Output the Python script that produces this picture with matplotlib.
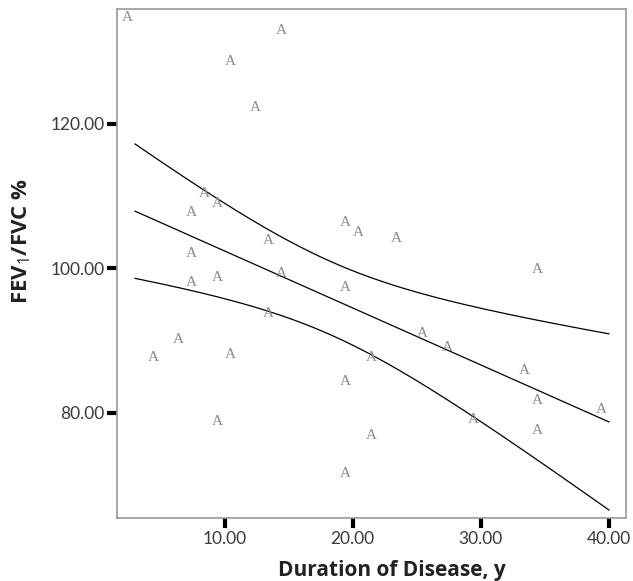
import matplotlib

matplotlib.use("Agg")

import matplotlib.pyplot as plt
import numpy as np

# Duration of disease (years) and FEV1/FVC % for each patient
duration = [3, 15, 11, 13, 9, 10, 8, 20, 21, 24, 14, 8, 35, 15, 10, 8, 20,
            14, 26, 28, 7, 22, 5, 11, 34, 20, 35, 40, 10, 30, 22, 35, 20]
fev_ratio = [133.5, 131.7, 127.5, 121.1, 109.2, 107.8, 106.5, 105.1, 103.7,
             102.9, 102.6, 100.8, 98.6, 98.1, 97.5, 96.8, 96.1, 92.6, 89.8,
             87.8, 89.0, 86.5, 86.4, 86.9, 84.6, 83.1, 80.5, 79.2, 77.6,
             77.8, 75.6, 76.3, 70.4]

x_ticks = [10, 20, 30, 40]
y_ticks = [80, 100, 120]

_TEXT = "#3a3a3a"
_SPINE = "#9a9a9a"
_MARK = "#8c8c8c"
_T95 = 2.0395  # t(0.975, df=31)

plt.rcParams["font.family"] = ["Lato", "DejaVu Sans"]
plt.rcParams["mathtext.fontset"] = "custom"
plt.rcParams["mathtext.rm"] = "Open Sans"
plt.rcParams["mathtext.it"] = "Open Sans"
plt.rcParams["mathtext.bf"] = "Open Sans:bold"

fig = plt.figure(figsize=(6.33, 5.81), dpi=100)
ax = fig.add_axes([0.1848, 0.1084, 0.8049, 0.8756])

x = np.array(duration, dtype=float)
y = np.array(fev_ratio, dtype=float)

# least squares fit with 95% confidence band for the mean
slope, intercept = np.polyfit(x, y, 1)
n = len(x)
resid = y - (slope * x + intercept)
s = np.sqrt(np.sum(resid ** 2) / (n - 2))
sxx = np.sum((x - x.mean()) ** 2)
xs = np.linspace(x.min(), x.max(), 200)
fit = slope * xs + intercept
half = _T95 * s * np.sqrt(1.0 / n + (xs - x.mean()) ** 2 / sxx)

for curve in (fit, fit + half, fit - half):
    ax.plot(xs, curve, color="black", linewidth=0.9)

# SPSS-style "A" markers, drawn up and left of the actual point
for xi, yi in zip(x, y):
    ax.annotate("A", (xi, yi), xytext=(-7.5, 8.7), textcoords="offset pixels",
                ha="center", va="center", fontsize=11, color=_MARK,
                family="Liberation Serif")

ax.set_xlim(1.59, 41.37)
ax.set_ylim(65.42, 135.87)
ax.set_xticks(x_ticks)
ax.set_yticks(y_ticks)
ax.set_xticklabels([f"{v:.2f}" for v in x_ticks])
ax.set_yticklabels([f"{v:.2f}" for v in y_ticks])

for side in ("top", "bottom", "left", "right"):
    ax.spines[side].set_color(_SPINE)
    ax.spines[side].set_linewidth(1.2)
ax.tick_params(direction="out", length=7, width=3, color="black",
               labelsize=12.5, labelcolor=_TEXT, pad=2)

ax.set_xlabel("Duration of Disease, y", fontsize=15, fontweight="bold",
              family="Open Sans", color="#222222")
ax.set_ylabel(r"FEV$_1$/FVC %", fontsize=16, fontweight="bold",
              family="Open Sans", color="#222222")
ax.xaxis.set_label_coords(0.54, -0.082)
ax.yaxis.set_label_coords(-0.165, 0.545)

fig.savefig("out.png", dpi=100)
